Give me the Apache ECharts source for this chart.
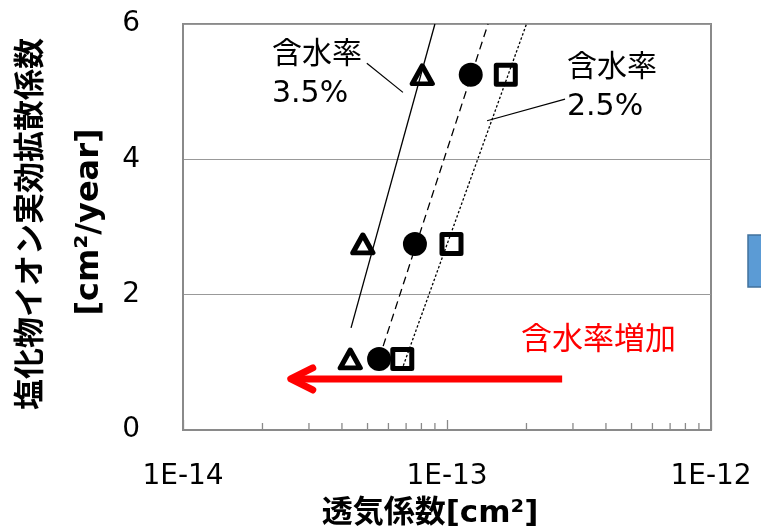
<!DOCTYPE html>
<html>
<head>
<meta charset="utf-8">
<script src="https://cdn.jsdelivr.net/npm/echarts@6/dist/echarts.min.js"></script>
<style>
  html, body { margin: 0; padding: 0; background: #fff; }
  #chart { width: 761px; height: 531px; }
</style>
</head>
<body>
<div id="chart"></div>
<script>
// Effective chloride diffusion coefficient vs. air permeability
const yTickValues = [0, 2, 4, 6];
const xTickLabels = ['1E-14', '1E-13', '1E-12'];
const diffusion = [5.25, 2.75, 1.05];          // cm²/year
const perm35 = [8.06e-14, 4.80e-14, 4.30e-14]; // 含水率 3.5%  (triangles)
const perm30 = [1.23e-13, 7.56e-14, 5.53e-14]; // middle moisture (circles)
const perm25 = [1.67e-13, 1.04e-13, 6.77e-14]; // 含水率 2.5%  (squares)

// trend line ends: [permeability, diffusion]
const trend35 = [[4.33e-14, 1.51], [9.0e-14, 6]];
const trend30 = [[5.73e-14, 1.24], [1.43e-13, 6]];
const trend25 = [[6.83e-14, 0.95], [2.0e-13, 6]];

// callout leaders and the "moisture increase" arrow, in data units
const leader35 = [[4.97e-14, 5.42], [6.81e-14, 4.99]];
const leader25 = [[1.418e-13, 4.57], [2.80e-13, 4.89]];
const arrowEnds = [[2.73e-13, 0.754], [2.56e-14, 0.754]];

// log-axis minor ticks (2..9 in each decade)
const minorTickValues = [2e-14, 3e-14, 4e-14, 5e-14, 6e-14, 7e-14, 8e-14, 9e-14,
                         2e-13, 3e-13, 4e-13, 5e-13, 6e-13, 7e-13, 8e-13, 9e-13];

const FONT = "'DejaVu Sans', 'Noto Sans CJK JP', sans-serif";
const AXIS_GRAY = '#8a8a8a';

const zip = (xs, ys) => xs.map((x, i) => [x, ys[i]]);

const chart = echarts.init(document.getElementById('chart'), null, { renderer: 'canvas' });

const hollow = {
  color: 'rgba(255,255,255,0)',
  borderColor: '#000',
  borderWidth: 5,
  borderJoin: 'round',
  opacity: 1
};

chart.setOption({
  animation: false,
  backgroundColor: '#fff',
  grid: {
    left: 183, right: 50, top: 24, bottom: 101,
    show: true, borderColor: AXIS_GRAY, borderWidth: 2, backgroundColor: 'transparent'
  },
  xAxis: {
    type: 'log',
    logBase: 10,
    min: 1e-14,
    max: 1e-12,
    axisLine: { show: true, lineStyle: { color: AXIS_GRAY, width: 2 } },
    axisTick: { show: true, inside: true, length: 10, lineStyle: { color: AXIS_GRAY, width: 1.3 } },
    splitLine: { show: false },
    axisLabel: {
      margin: 33,
      fontSize: 28,
      fontFamily: FONT,
      color: '#000',
      formatter: v => {
        const e = Math.round(Math.log10(v));
        return xTickLabels.find(s => s === '1E' + e) || ('1E' + e);
      }
    }
  },
  yAxis: {
    type: 'value',
    min: yTickValues[0],
    max: yTickValues[yTickValues.length - 1],
    interval: yTickValues[1] - yTickValues[0],
    axisLine: { show: true, lineStyle: { color: AXIS_GRAY, width: 2 } },
    axisTick: { show: false },
    splitLine: { show: true, lineStyle: { color: '#999', width: 1.2 } },
    axisLabel: { margin: 43, fontSize: 28, fontFamily: FONT, color: '#000' }
  },
  series: [
    {
      name: 'minor ticks',
      type: 'custom',
      silent: true,
      data: minorTickValues.map(v => [v, 0]),
      encode: { x: 0, y: 1 },
      renderItem: (params, api) => {
        const p = api.coord([api.value(0), 0]);
        return {
          type: 'line',
          shape: { x1: p[0], y1: p[1], x2: p[0], y2: p[1] - 7 },
          style: { stroke: AXIS_GRAY, lineWidth: 1.3 }
        };
      },
      clip: false,
      z: 1
    },
    {
      name: '含水率3.5%',
      type: 'scatter',
      data: zip(perm35, diffusion),
      symbol: 'triangle',
      symbolSize: [20, 18],
      itemStyle: hollow,
      z: 2
    },
    {
      name: '含水率3.0%',
      type: 'scatter',
      data: zip(perm30, diffusion),
      symbol: 'circle',
      symbolSize: 24,
      itemStyle: { color: '#000', opacity: 1 },
      z: 2
    },
    {
      name: '含水率2.5%',
      type: 'scatter',
      data: zip(perm25, diffusion),
      symbol: 'rect',
      symbolSize: 19,
      itemStyle: hollow,
      z: 2
    },
    {
      name: 'trend 3.5%',
      type: 'line',
      data: trend35,
      symbol: 'none',
      lineStyle: { color: '#000', width: 1.3, type: 'solid' },
      z: 3
    },
    {
      name: 'trend 3.0%',
      type: 'line',
      data: trend30,
      symbol: 'none',
      lineStyle: { color: '#000', width: 1.3, type: [8, 5] },
      z: 3
    },
    {
      name: 'trend 2.5%',
      type: 'line',
      data: trend25,
      symbol: 'none',
      lineStyle: { color: '#000', width: 1.3, type: [2.5, 2] },
      z: 3
    },
    {
      name: 'leader 3.5%',
      type: 'line',
      data: leader35,
      symbol: 'none',
      lineStyle: { color: '#000', width: 1.2 },
      z: 3
    },
    {
      name: 'leader 2.5%',
      type: 'line',
      data: leader25,
      symbol: 'none',
      lineStyle: { color: '#000', width: 1.2 },
      z: 3
    },
    {
      name: 'moisture arrow',
      type: 'custom',
      silent: true,
      data: [arrowEnds[0]],
      encode: { x: 0, y: 1 },
      clip: false,
      renderItem: (params, api) => {
        const a = api.coord(arrowEnds[0]);
        const b = api.coord(arrowEnds[1]);
        const style = { stroke: '#ff0000', lineWidth: 7, lineCap: 'round', lineJoin: 'round', fill: null };
        return {
          type: 'group',
          children: [
            { type: 'polyline', shape: { points: [a, [b[0] + 2, b[1]]] }, style: Object.assign({}, style, { lineCap: 'butt' }) },
            { type: 'polyline', shape: { points: [[b[0] + 22, b[1] - 11], b, [b[0] + 22, b[1] + 11]] }, style }
          ]
        };
      },
      z: 4
    }
  ],
  graphic: [
    {
      type: 'text', x: 272, y: 35.5,
      style: { text: '含水率\n3.5%', font: '30px ' + FONT, lineHeight: 39, fill: '#000', align: 'left', verticalAlign: 'top' }
    },
    {
      type: 'text', x: 567, y: 49,
      style: { text: '含水率\n2.5%', font: '30px ' + FONT, lineHeight: 39, fill: '#000', align: 'left', verticalAlign: 'top' }
    },
    {
      type: 'text', x: 521, y: 341,
      style: { text: '含水率増加', font: '31px ' + FONT, fill: '#ff0000', align: 'left', verticalAlign: 'middle' }
    },
    {
      type: 'text', x: 32, y: 224, rotation: Math.PI / 2,
      style: { text: '塩化物イオン実効拡散係数', font: 'bold 31px ' + FONT, fill: '#000', align: 'center', verticalAlign: 'middle' }
    },
    {
      type: 'text', x: 90, y: 222, rotation: Math.PI / 2,
      style: { text: '[cm²/year]', font: 'bold 32px ' + FONT, fill: '#000', align: 'center', verticalAlign: 'middle' }
    },
    {
      type: 'text', x: 430, y: 514,
      style: { text: '透気係数[cm²]', font: 'bold 31px ' + FONT, fill: '#000', align: 'center', verticalAlign: 'middle' }
    },
    {
      type: 'rect', shape: { x: 748, y: 235, width: 20, height: 52 },
      style: { fill: '#5b9bd5', stroke: '#41719c', lineWidth: 1.5 }
    }
  ]
});
</script>
</body>
</html>
